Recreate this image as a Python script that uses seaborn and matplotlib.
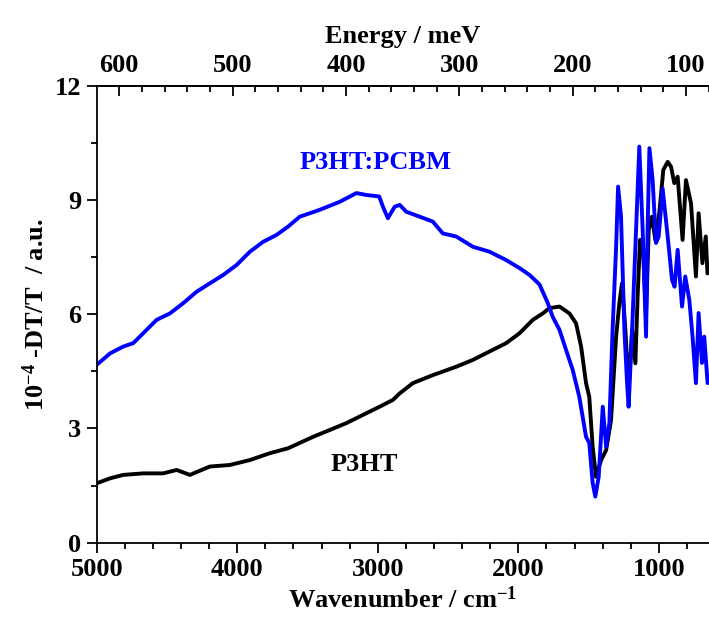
import numpy as np
import pandas as pd
import matplotlib
matplotlib.use("Agg")
import matplotlib.pyplot as plt
from matplotlib.ticker import MultipleLocator
import seaborn as sns

# Data (wavenumber in cm-1, signal in 1e-4 -dT/T)
blend_wn = [5000, 4905, 4811, 4740, 4669, 4574, 4479, 4384, 4289, 4195, 4100, 4005,
            3910, 3816, 3721, 3638, 3555, 3413, 3271, 3152, 3081, 2990, 2963, 2928,
            2880, 2844, 2797, 2702, 2608, 2537, 2442, 2323, 2205, 2086, 1991, 1920,
            1849, 1790, 1755, 1707, 1660, 1613, 1566, 1518, 1495, 1471, 1452, 1428,
            1399, 1375, 1352, 1329, 1304, 1290, 1269, 1245, 1226, 1215, 1190, 1162,
            1139, 1115, 1091, 1080, 1067, 1044, 1020, 1001, 973, 937, 906, 888,
            866, 835, 812, 783, 760, 736, 717, 693, 677, 653]
blend_val = [4.67, 4.97, 5.15, 5.24, 5.50, 5.85, 6.02, 6.29, 6.59, 6.81, 7.03, 7.29,
             7.64, 7.90, 8.08, 8.30, 8.56, 8.74, 8.95, 9.18, 9.13, 9.09, 8.82, 8.52,
             8.82, 8.87, 8.69, 8.56, 8.43, 8.12, 8.04, 7.77, 7.64, 7.42, 7.21, 7.03,
             6.78, 6.29, 5.93, 5.59, 5.06, 4.54, 3.83, 2.78, 2.62, 1.57, 1.21, 1.73,
             3.57, 2.52, 3.14, 5.59, 7.77, 9.35, 8.56, 5.59, 4.19, 3.57, 5.59, 8.21,
             10.40, 8.21, 5.41, 8.20, 10.36, 9.52, 7.87, 8.04, 9.30, 8.04, 6.90, 6.72,
             7.69, 6.20, 6.99, 6.37, 5.41, 4.19, 6.03, 4.72, 5.41, 4.19]

p3ht_wn = [5000, 4905, 4811, 4669, 4527, 4431, 4337, 4195, 4053, 3910, 3768, 3638,
           3460, 3223, 3081, 2987, 2892, 2844, 2750, 2608, 2442, 2323, 2205, 2086,
           1991, 1897, 1826, 1778, 1707, 1636, 1589, 1553, 1518, 1495, 1471, 1447,
           1411, 1375, 1340, 1304, 1281, 1262, 1238, 1215, 1190, 1167, 1151, 1134,
           1110, 1091, 1072, 1049, 1025, 997, 968, 937, 913, 890, 866, 831,
           807, 771, 736, 717, 690, 666, 654]
p3ht_val = [1.56, 1.69, 1.78, 1.82, 1.82, 1.91, 1.78, 2.00, 2.04, 2.17, 2.35, 2.48,
            2.78, 3.14, 3.40, 3.57, 3.75, 3.92, 4.19, 4.40, 4.62, 4.80, 5.02, 5.24,
            5.50, 5.85, 6.02, 6.16, 6.20, 6.02, 5.76, 5.15, 4.19, 3.83, 2.52, 1.73,
            2.17, 2.43, 3.22, 5.41, 6.29, 6.81, 5.59, 4.01, 5.59, 4.71, 6.46, 7.95,
            7.51, 5.93, 8.21, 8.56, 7.95, 8.65, 9.79, 10.0, 9.87, 9.44, 9.61, 7.95,
            9.52, 8.91, 6.99, 8.65, 7.34, 8.04, 7.07]

MEV_TO_WN = 8.0655

sns.set_style("ticks")
plt.rcParams['font.family'] = ['Liberation Serif', 'DejaVu Serif']
plt.rcParams['font.weight'] = 'bold'
plt.rcParams['mathtext.fontset'] = 'custom'
plt.rcParams['mathtext.rm'] = 'Liberation Serif:bold'
plt.rcParams['mathtext.it'] = 'Liberation Serif:italic:bold'
plt.rcParams['mathtext.bf'] = 'Liberation Serif:bold'
for key in ['text.color', 'axes.labelcolor', 'xtick.color', 'ytick.color',
            'axes.edgecolor']:
    plt.rcParams[key] = 'black'

df_blend = pd.DataFrame({'wn': blend_wn, 'val': blend_val})
df_p3ht = pd.DataFrame({'wn': p3ht_wn, 'val': p3ht_val})

fig = plt.figure(figsize=(7.09, 6.24), dpi=100)
ax = fig.add_axes([0.1364, 0.1303, 1 - 0.1364, 0.7324])

sns.lineplot(data=df_p3ht, x='wn', y='val', color='black', linewidth=2.8,
             estimator=None, sort=False, ax=ax)
sns.lineplot(data=df_blend, x='wn', y='val', color='#0000ff', linewidth=2.8,
             estimator=None, sort=False, ax=ax)

ax.set_xlim(5000, 643)
ax.set_ylim(0, 12)
ax.xaxis.set_major_locator(MultipleLocator(1000))
ax.xaxis.set_minor_locator(MultipleLocator(200))
ax.yaxis.set_major_locator(MultipleLocator(3))
ax.yaxis.set_minor_locator(MultipleLocator(1.5))
ax.spines['right'].set_visible(False)
for s in ['left', 'bottom', 'top']:
    ax.spines[s].set_linewidth(1.3)
    ax.spines[s].set_color('black')
ax.tick_params(which='major', direction='out', length=7, width=1.3,
               labelsize=19, pad=4, colors='black')
ax.tick_params(which='minor', direction='out', length=4, width=1.3, colors='black')
ax.tick_params(top=False)

ax.set_xlabel('Wavenumber / cm$^{-1}$', fontsize=19, fontweight='bold', labelpad=4)
ax.set_ylabel('10$^{-4}$ -DT/T  / a.u.', fontsize=19, fontweight='bold', labelpad=4)

# top axis in meV
top = ax.secondary_xaxis('top', functions=(lambda w: w / MEV_TO_WN,
                                           lambda e: e * MEV_TO_WN))
top.xaxis.set_major_locator(MultipleLocator(100))
top.xaxis.set_minor_locator(MultipleLocator(20))
top.tick_params(which='major', direction='in', length=7, width=1.3,
                labelsize=19, pad=6, colors='black')
top.tick_params(which='minor', direction='in', length=4, width=1.3, colors='black')
top.spines['top'].set_linewidth(1.3)
top.spines['top'].set_color('black')
top.set_xlabel('Energy / meV', fontsize=19, fontweight='bold', labelpad=8)

ax.text(3015, 9.97, 'P3HT:PCBM', color='#0000ff', fontsize=19,
        fontweight='bold', ha='center', va='center')
ax.text(3093, 2.04, 'P3HT', color='black', fontsize=19,
        fontweight='bold', ha='center', va='center')

for lab in ax.get_xticklabels() + ax.get_yticklabels() + top.get_xticklabels():
    lab.set_fontweight('bold')

fig.savefig('out.png', dpi=100)
